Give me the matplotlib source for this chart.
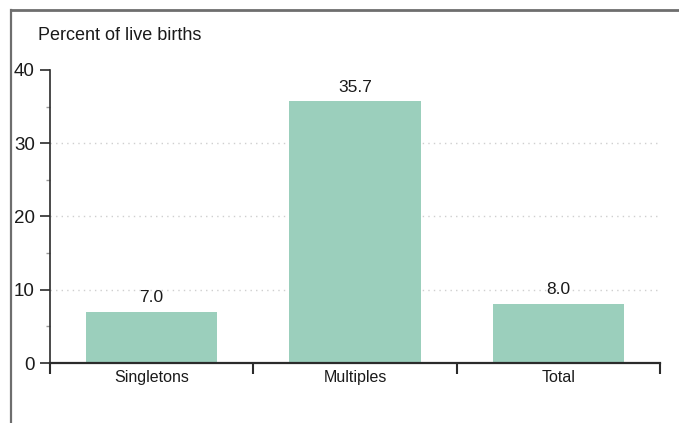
import matplotlib
matplotlib.use("Agg")
import matplotlib.pyplot as plt
from matplotlib.lines import Line2D
from matplotlib.ticker import MultipleLocator, FixedLocator, NullFormatter

categories = ["Singletons", "Multiples", "Total"]
values = [7.0, 35.7, 8.0]
y_ticks = [0, 10, 20, 30, 40]
y_label = "Percent of live births"

plt.rcParams["font.family"] = ["Liberation Sans", "DejaVu Sans"]

bar_color = "#9BCFBC"
axis_color = "#2b2b2b"
text_color = "#1a1a1a"

fig = plt.figure(figsize=(6.79, 4.23), dpi=100)
ax = fig.add_axes([50 / 679, 1 - 363 / 423, 610 / 679, 293 / 423])

x = list(range(len(categories)))
ax.bar(x, values, width=0.645, color=bar_color, zorder=2)

for xi, v in zip(x, values):
    ax.annotate(f"{v:.1f}", (xi, v), xytext=(0, 5), textcoords="offset points",
                ha="center", va="bottom", fontsize=12.5, color=text_color)

ax.set_xlim(-0.5, len(categories) - 0.5)
ax.set_ylim(0, 40)

# dotted guide lines
for yv in y_ticks[1:-1]:
    ax.axhline(yv, color="#cfcfcf", linestyle=(0, (1, 3)), linewidth=1.0, zorder=1)

# y axis ticks
ax.yaxis.set_major_locator(FixedLocator(y_ticks))
ax.yaxis.set_minor_locator(MultipleLocator(5))
ax.tick_params(axis="y", which="major", length=7, width=1.2, color=axis_color,
               labelsize=13.5, labelcolor=text_color, pad=4)
ax.tick_params(axis="y", which="minor", length=3, width=1.0, color="#9a9a9a")

# x axis: boundary ticks, labels centred on bars
ax.xaxis.set_major_locator(FixedLocator([i - 0.5 for i in range(len(categories) + 1)]))
ax.xaxis.set_major_formatter(NullFormatter())
ax.xaxis.set_minor_locator(FixedLocator(x))
ax.set_xticks(x, categories, minor=True)
ax.tick_params(axis="x", which="major", length=8, width=1.5, color=axis_color)
ax.tick_params(axis="x", which="minor", length=0, pad=5, labelsize=11.5,
               labelcolor=text_color)

for side in ("top", "right"):
    ax.spines[side].set_visible(False)
for side in ("left", "bottom"):
    ax.spines[side].set_color(axis_color)
ax.spines["left"].set_linewidth(1.2)
ax.spines["bottom"].set_linewidth(1.6)

fig.text(38 / 679, 1 - 35 / 423, y_label, ha="left", va="center",
         fontsize=13, color=text_color)

# outer frame: top and left edges
fig.add_artist(Line2D([11 / 679, 1], [1 - 10 / 423, 1 - 10 / 423],
                      transform=fig.transFigure, color="#6e6e6e", linewidth=2.0))
fig.add_artist(Line2D([11 / 679, 11 / 679], [0, 1 - 10 / 423],
                      transform=fig.transFigure, color="#6e6e6e", linewidth=1.6))

fig.savefig("out.png", dpi=100)
